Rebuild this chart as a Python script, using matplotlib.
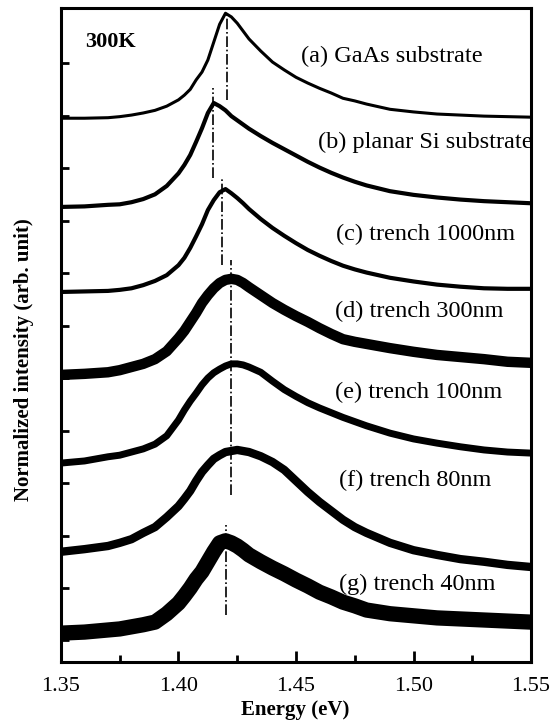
import numpy as np
import matplotlib
matplotlib.use("Agg")
import matplotlib.pyplot as plt
from matplotlib.ticker import MultipleLocator

energy = [1.35, 1.36, 1.37, 1.375, 1.38, 1.385, 1.39, 1.395, 1.40, 1.4025,
          1.405, 1.4075, 1.41, 1.4125, 1.415, 1.4175, 1.42, 1.4225, 1.425,
          1.4275, 1.43, 1.435, 1.44, 1.445, 1.45, 1.455, 1.46, 1.465, 1.47,
          1.475, 1.48, 1.49, 1.50, 1.51, 1.52, 1.53, 1.54, 1.55]

# stacked, normalized PL intensity (arb. unit) for every sample
pl_a = [9.95, 9.95, 9.96, 9.98, 10.01, 10.05, 10.10, 10.18, 10.30, 10.39,
        10.50, 10.68, 10.83, 11.06, 11.40, 11.74, 11.95, 11.88, 11.76,
        11.61, 11.46, 11.23, 11.02, 10.87, 10.73, 10.62, 10.52, 10.43, 10.33,
        10.28, 10.22, 10.12, 10.07, 10.03, 10.01, 9.99, 9.98, 9.97]
pl_b = [8.26, 8.27, 8.30, 8.31, 8.35, 8.41, 8.50, 8.66, 8.90, 9.06,
        9.25, 9.50, 9.76, 10.05, 10.24, 10.18, 10.10, 9.99, 9.91,
        9.83, 9.75, 9.61, 9.48, 9.36, 9.24, 9.12, 9.01, 8.91, 8.82,
        8.74, 8.67, 8.56, 8.49, 8.44, 8.40, 8.37, 8.35, 8.33]
pl_c = [6.64, 6.65, 6.66, 6.68, 6.71, 6.77, 6.85, 6.96, 7.15, 7.29,
        7.48, 7.70, 7.93, 8.20, 8.39, 8.54, 8.60, 8.52, 8.43,
        8.33, 8.22, 8.03, 7.86, 7.71, 7.57, 7.44, 7.33, 7.23, 7.14,
        7.07, 7.01, 6.91, 6.84, 6.78, 6.74, 6.71, 6.70, 6.70]
pl_d = [5.06, 5.08, 5.11, 5.15, 5.21, 5.27, 5.36, 5.51, 5.76, 5.90,
        6.07, 6.24, 6.43, 6.58, 6.71, 6.81, 6.87, 6.89, 6.87,
        6.81, 6.73, 6.58, 6.43, 6.30, 6.18, 6.07, 5.95, 5.84, 5.74,
        5.69, 5.65, 5.57, 5.50, 5.44, 5.40, 5.36, 5.31, 5.29]
pl_e = [3.38, 3.42, 3.50, 3.53, 3.59, 3.65, 3.74, 3.90, 4.20, 4.39,
        4.56, 4.71, 4.87, 5.00, 5.10, 5.17, 5.23, 5.27, 5.27,
        5.25, 5.21, 5.11, 4.94, 4.78, 4.65, 4.53, 4.43, 4.34, 4.25,
        4.17, 4.09, 3.95, 3.84, 3.76, 3.69, 3.63, 3.59, 3.57]
pl_f = [1.69, 1.74, 1.80, 1.86, 1.93, 2.05, 2.16, 2.35, 2.56, 2.70,
        2.85, 3.04, 3.21, 3.34, 3.46, 3.53, 3.59, 3.61, 3.63,
        3.61, 3.59, 3.51, 3.40, 3.25, 3.04, 2.83, 2.64, 2.47, 2.30,
        2.16, 2.05, 1.86, 1.72, 1.63, 1.55, 1.50, 1.44, 1.40]
pl_g = [0.14, 0.16, 0.20, 0.22, 0.26, 0.30, 0.35, 0.51, 0.71, 0.85,
        1.00, 1.17, 1.31, 1.50, 1.69, 1.86, 1.90, 1.86, 1.80,
        1.72, 1.63, 1.50, 1.38, 1.27, 1.15, 1.04, 0.92, 0.83, 0.73,
        0.66, 0.58, 0.51, 0.47, 0.43, 0.41, 0.39, 0.37, 0.35]

labels = ["(a) GaAs substrate", "(b) planar Si substrate", "(c) trench 1000nm",
          "(d) trench 300nm", "(e) trench 100nm", "(f) trench 80nm",
          "(g) trench 40nm"]

# peak markers: energy, top and bottom of each dash-dot guide
peak_e = [1.4205, 1.4147, 1.4185, 1.4222, 1.4202]
peak_top = [11.95, 10.52, 8.83, 7.25, 2.20]
peak_bot = [10.30, 8.81, 7.15, 2.77, 0.49]

plt.rcParams["font.family"] = ["Liberation Serif", "DejaVu Serif"]

fig = plt.figure(figsize=(5.54, 7.26), dpi=100)
ax = fig.add_axes([61 / 554, 64 / 726, 470 / 554, 654 / 726])

series = [pl_a, pl_b, pl_c, pl_d, pl_e, pl_f, pl_g]
widths = [2.2, 3.0, 3.0, 7.5, 5.0, 6.0, 11.0]  # noisier spectra look thicker
for ys, lw in zip(series, widths):
    ax.plot(energy, ys, color="black", lw=lw, solid_joinstyle="round",
            solid_capstyle="butt")

for e, y0, y1 in zip(peak_e, peak_bot, peak_top):
    ax.plot([e, e], [y0, y1], color="black", lw=1.2, ls="-.")

# label positions (centre of text)
lab_x = [1.4908, 1.5051, 1.5051, 1.5026, 1.5021, 1.5009, 1.5017]
lab_y = [11.13, 9.48, 7.74, 6.26, 4.73, 3.04, 1.06]
for t, x, y in zip(labels, lab_x, lab_y):
    ax.text(x, y, t, ha="center", va="center", fontsize=17.5)

ax.text(1.3709, 11.40, "300K", ha="center", va="center",
        fontsize=16, fontweight="bold")

ax.set_xlim(1.35, 1.55)
ax.set_ylim(-0.41, 12.05)
ax.xaxis.set_minor_locator(MultipleLocator(0.025))
ax.set_xticks([1.35, 1.40, 1.45, 1.50, 1.55])
ax.set_xticklabels(["1.35", "1.40", "1.45", "1.50", "1.55"])
ax.set_yticks(np.arange(0, 12))
ax.set_yticklabels([])
ax.tick_params(axis="x", which="major", direction="in", length=8, width=2,
               labelsize=16, pad=11)
ax.tick_params(axis="x", which="minor", direction="in", length=5, width=2)
ax.tick_params(axis="y", which="major", direction="in", length=6, width=2)
for s in ax.spines.values():
    s.set_linewidth(2.2)

ax.set_xlabel("Energy (eV)", fontsize=15, fontweight="bold")
ax.set_ylabel("Normalized intensity (arb. unit)", fontsize=15,
              fontweight="bold")
ax.xaxis.set_label_coords(0.498, -0.058)
ax.yaxis.set_label_coords(-0.058, 0.462)

fig.savefig("out.png", dpi=100, facecolor="white")
